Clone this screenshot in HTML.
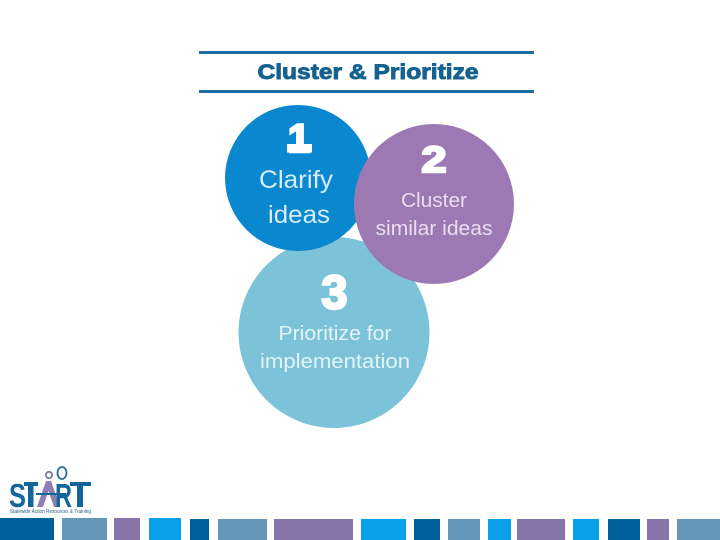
<!DOCTYPE html>
<html><head><meta charset="utf-8"><style>
html,body{margin:0;padding:0;background:#fff}
svg{display:block}
text{font-family:"Liberation Sans",sans-serif}
</style></head><body>
<svg width="720" height="540" viewBox="0 0 720 540" xmlns="http://www.w3.org/2000/svg">
<rect width="720" height="540" fill="#fff"/>
<rect x="199" y="51" width="335" height="3" fill="#1d6f9f"/>
<rect x="199" y="90" width="335" height="3" fill="#1d6f9f"/>
<text x="368" y="79" text-anchor="middle" font-size="21.500" font-weight="700" fill="#15628f" stroke="#15628f" stroke-width="0.900" textLength="221" lengthAdjust="spacingAndGlyphs">Cluster &amp; Prioritize</text>

<circle cx="334" cy="332.500" r="95.500" fill="#7cc3da"/>
<circle cx="298" cy="178" r="73" fill="#0a88cf"/>
<circle cx="434" cy="204" r="80" fill="#9c79b3"/>

<g fill="#fff" text-anchor="middle">
<text x="299" y="152" font-size="40" font-weight="700" stroke="#fff" stroke-width="2.400">1</text>
<rect x="287" y="144" width="25" height="8.500" fill="#fff"/>
<text x="296" y="188" font-size="25" fill="#d8ecf7" textLength="74" lengthAdjust="spacingAndGlyphs">Clarify</text>
<text x="299" y="223" font-size="25" fill="#d8ecf7" textLength="62" lengthAdjust="spacingAndGlyphs">ideas</text>
<text x="434" y="172" font-size="36" font-weight="700" stroke="#fff" stroke-width="2.400" textLength="25" lengthAdjust="spacingAndGlyphs">2</text>
<text x="434" y="207" font-size="20" fill="#e8dff0" textLength="66" lengthAdjust="spacingAndGlyphs">Cluster</text>
<text x="434" y="235" font-size="20" fill="#e8dff0" textLength="117" lengthAdjust="spacingAndGlyphs">similar ideas</text>
<text x="334.500" y="308.500" font-size="47" font-weight="700" stroke="#fff" stroke-width="2.400">3</text>
<text x="335" y="340" font-size="20" fill="#e4f4f8" textLength="113" lengthAdjust="spacingAndGlyphs">Prioritize for</text>
<text x="335" y="368" font-size="20" fill="#e4f4f8" textLength="150" lengthAdjust="spacingAndGlyphs">implementation</text>
</g>

<!-- logo -->
<circle cx="49" cy="475" r="3.200" fill="none" stroke="#7f78ad" stroke-width="1.800"/>
<ellipse cx="62" cy="473" rx="4.500" ry="6" fill="none" stroke="#1d6f9f" stroke-width="1.800"/>
<text x="9" y="507" font-size="33" font-weight="700" fill="#12669a" textLength="17" lengthAdjust="spacingAndGlyphs">S</text>
<rect x="24" y="482" width="14" height="4" fill="#12669a"/>
<rect x="28" y="482" width="5.500" height="25" fill="#12669a"/>
<path d="M37 507 L46 481 L51 481 L60 507 L54 507 L48.500 491 L43 507 Z" fill="#8b7fb5"/>
<text x="55" y="507" font-size="33" font-weight="700" fill="#12669a" textLength="17" lengthAdjust="spacingAndGlyphs">R</text>
<rect x="70" y="482" width="21" height="4" fill="#12669a"/>
<rect x="77" y="482" width="6" height="25" fill="#12669a"/>
<rect x="36" y="493" width="30" height="2" fill="#12669a"/>
<text x="10" y="513" font-size="5.500" fill="#1f5f8a" textLength="81" lengthAdjust="spacingAndGlyphs">Statewide Action Resources &amp; Training</text>

<!-- footer bars -->
<g>
<rect x="0" y="518" width="54" height="22" fill="#00609a"/>
<rect x="62" y="518" width="45" height="22" fill="#6396b9"/>
<rect x="114" y="518" width="26" height="22" fill="#8674ab"/>
<rect x="149" y="518" width="32" height="22" fill="#08a0e8"/>
<rect x="190" y="519" width="19" height="21" fill="#00609a"/>
<rect x="218" y="519" width="49" height="21" fill="#6396b9"/>
<rect x="274" y="519" width="79" height="21" fill="#8674ab"/>
<rect x="361" y="519" width="45" height="21" fill="#08a0e8"/>
<rect x="414" y="519" width="26" height="21" fill="#00609a"/>
<rect x="448" y="519" width="32" height="21" fill="#6396b9"/>
<rect x="488" y="519" width="23" height="21" fill="#08a0e8"/>
<rect x="517" y="519" width="48" height="21" fill="#8674ab"/>
<rect x="573" y="519" width="26" height="21" fill="#08a0e8"/>
<rect x="608" y="519" width="32" height="21" fill="#00609a"/>
<rect x="647" y="519" width="22" height="21" fill="#8674ab"/>
<rect x="677" y="519" width="43" height="21" fill="#6396b9"/>
</g>
</svg>
</body></html>
